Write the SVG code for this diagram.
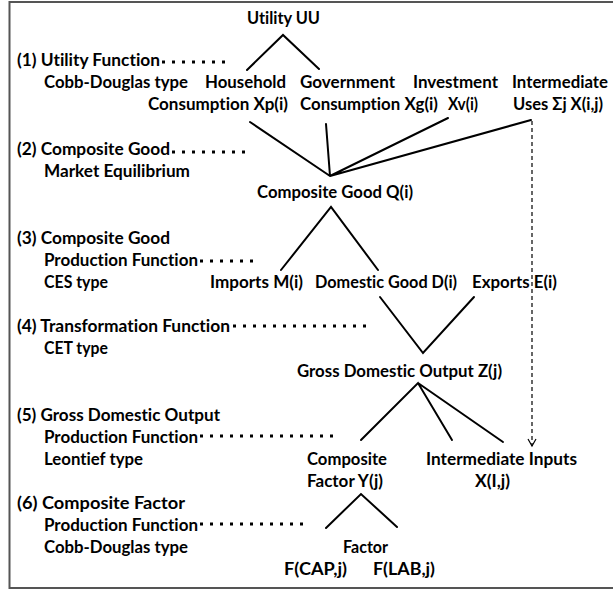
<svg xmlns="http://www.w3.org/2000/svg" width="613" height="590" viewBox="0 0 613 590">
<style>
text{font-family:Lato,"Open Sans","Liberation Sans",sans-serif;font-weight:700;font-size:16.5px;fill:#000;font-variant-ligatures:none}
.c{stroke:#000;stroke-width:2;fill:none;stroke-linecap:round}
.d{stroke:#000;stroke-width:3;stroke-dasharray:3 7;fill:none}
.v{stroke:#000;stroke-width:1.2;stroke-dasharray:4 3;fill:none}
</style>
<defs>
<marker id="ah" markerWidth="10" markerHeight="10" refX="8" refY="5" orient="auto" markerUnits="userSpaceOnUse">
<path d="M1,1 L8,5 L1,9" fill="none" stroke="#000" stroke-width="1.2"/>
</marker>
</defs>
<rect x="9.5" y="2" width="640" height="586" fill="#fff" stroke="#555" stroke-width="2"/>

<g id="labels">
<g id="lab1"><text x="17" y="66" textLength="143" lengthAdjust="spacingAndGlyphs">(1) Utility Function</text><text x="44" y="88" textLength="144" lengthAdjust="spacingAndGlyphs">Cobb-Douglas type</text></g>
<g id="lab2"><text x="17" y="155" textLength="153" lengthAdjust="spacingAndGlyphs">(2) Composite Good</text><text x="44" y="177" textLength="146" lengthAdjust="spacingAndGlyphs">Market Equilibrium</text></g>
<g id="lab3"><text x="17" y="244" textLength="153" lengthAdjust="spacingAndGlyphs">(3) Composite Good</text><text x="44" y="266" textLength="154" lengthAdjust="spacingAndGlyphs">Production Function</text><text x="44" y="288" textLength="64" lengthAdjust="spacingAndGlyphs">CES type</text></g>
<g id="lab4"><text x="17" y="332" textLength="213" lengthAdjust="spacingAndGlyphs">(4) Transformation Function</text><text x="44" y="354" textLength="64" lengthAdjust="spacingAndGlyphs">CET type</text></g>
<g id="lab5"><text x="17" y="421" textLength="203" lengthAdjust="spacingAndGlyphs">(5) Gross Domestic Output</text><text x="44" y="443" textLength="154" lengthAdjust="spacingAndGlyphs">Production Function</text><text x="44" y="465" textLength="99" lengthAdjust="spacingAndGlyphs">Leontief type</text></g>
<g id="lab6"><text x="17" y="509" textLength="168" lengthAdjust="spacingAndGlyphs">(6) Composite Factor</text><text x="44" y="531" textLength="154" lengthAdjust="spacingAndGlyphs">Production Function</text><text x="44" y="553" textLength="144" lengthAdjust="spacingAndGlyphs">Cobb-Douglas type</text></g>
</g>

<g id="utility"><text x="247" y="24" textLength="73" lengthAdjust="spacingAndGlyphs">Utility UU</text></g>
<g id="household"><text x="205" y="88" textLength="81" lengthAdjust="spacingAndGlyphs">Household</text><text x="148" y="110" textLength="140" lengthAdjust="spacingAndGlyphs">Consumption Xp(i)</text></g>
<g id="government"><text x="300" y="88" textLength="95" lengthAdjust="spacingAndGlyphs">Government</text><text x="300" y="110" textLength="138" lengthAdjust="spacingAndGlyphs">Consumption Xg(i)</text></g>
<g id="investment"><text x="413" y="88" textLength="85" lengthAdjust="spacingAndGlyphs">Investment</text><text x="448" y="110" textLength="30" lengthAdjust="spacingAndGlyphs">Xv(i)</text></g>
<g id="intermediate-uses"><text x="512" y="88" textLength="96" lengthAdjust="spacingAndGlyphs">Intermediate</text><text x="513" y="110" textLength="90" lengthAdjust="spacingAndGlyphs">Uses Σj X(i,j)</text></g>
<g id="composite-good"><text x="257" y="198" textLength="156" lengthAdjust="spacingAndGlyphs">Composite Good Q(i)</text></g>
<g id="imports"><text x="210" y="288" textLength="93" lengthAdjust="spacingAndGlyphs">Imports M(i)</text></g>
<g id="domestic-good"><text x="315" y="288" textLength="142" lengthAdjust="spacingAndGlyphs">Domestic Good D(i)</text></g>
<g id="exports"><text x="472" y="288" textLength="85" lengthAdjust="spacingAndGlyphs">Exports E(i)</text></g>
<g id="gross-output"><text x="297" y="377" textLength="205" lengthAdjust="spacingAndGlyphs">Gross Domestic Output Z(j)</text></g>
<g id="composite-factor"><text x="307" y="465" textLength="80" lengthAdjust="spacingAndGlyphs">Composite</text><text x="307" y="487" textLength="76" lengthAdjust="spacingAndGlyphs">Factor Y(j)</text></g>
<g id="intermediate-inputs"><text x="426" y="465" textLength="151" lengthAdjust="spacingAndGlyphs">Intermediate Inputs</text><text x="475" y="487" textLength="35" lengthAdjust="spacingAndGlyphs">X(I,j)</text></g>
<g id="factor"><text x="343" y="553" textLength="45" lengthAdjust="spacingAndGlyphs">Factor</text><text x="284" y="575" textLength="63" lengthAdjust="spacingAndGlyphs">F(CAP,j)</text><text x="373" y="575" textLength="62" lengthAdjust="spacingAndGlyphs">F(LAB,j)</text></g>

<g id="connectors">
<path class="c" d="M247,70 L283,35 L319,69"/>
<path class="c" d="M250,122 L330,176 M326,124 L330,176 M448,118 L330,176 M531,120 L330,176"/>
<path class="c" d="M281,270 L331,207 L378,270"/>
<path class="c" d="M380,297 L423,353 L474,297"/>
<path class="c" d="M361,440 L418,383 L452,440 M418,383 L503,442"/>
<path class="c" d="M326,528 L361,494 L397,527"/>
<path class="v" d="M532,121 L532,446" marker-end="url(#ah)"/>
<path class="d" d="M162,62 L227,62"/>
<path class="d" d="M172,152 L247,152"/>
<path class="d" d="M200,261 L253,261"/>
<path class="d" d="M233,326 L370,326"/>
<path class="d" d="M200,436 L337,436"/>
<path class="d" d="M200,524 L305,524"/>
</g>
</svg>
